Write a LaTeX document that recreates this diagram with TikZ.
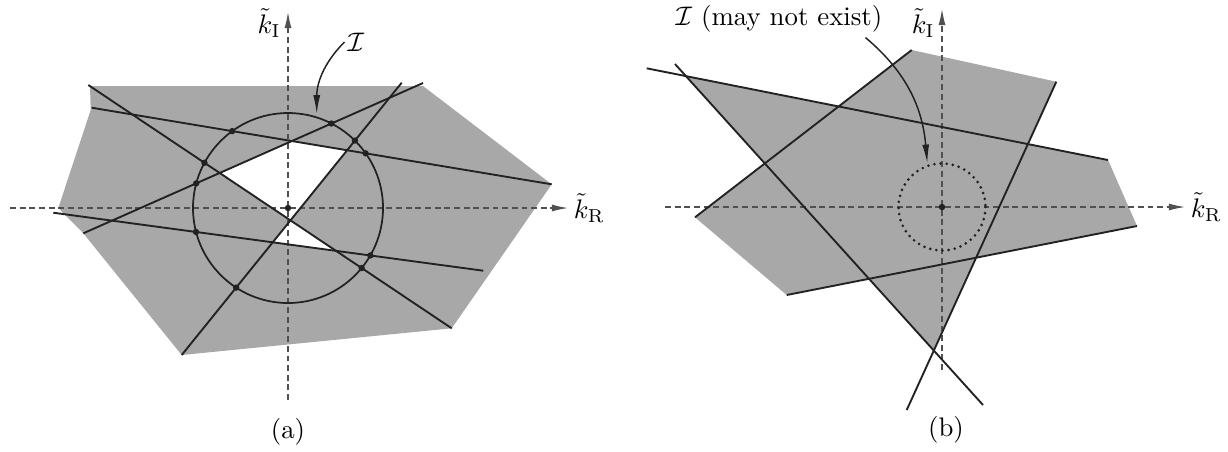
\documentclass[tikz,border=0pt]{standalone}
\usepackage{xcolor}
\definecolor{cShade}{HTML}{A8A8A8}
\definecolor{cLine}{HTML}{222222}
\definecolor{cAxis}{HTML}{505050}
\usepackage{tikz}
\usetikzlibrary{positioning,arrows.meta,calc,intersections}
\tikzset{
  region/.style={fill=cShade,draw=none},
  hole/.style={fill=white,draw=none},
  bound-line/.style={draw=cLine,line width=0.7pt},
  axis-line/.style={draw=cAxis,line width=0.45pt,dash pattern=on 2.2pt off 1.4pt,
    -{Latex[length=6pt,width=2.6pt]}},
  circ-line/.style={draw=cLine,line width=0.65pt},
  circ-dotted/.style={draw=cLine,line width=1.1pt,dash pattern=on 0pt off 2.3pt,line cap=round},
  arrow-label/.style={draw=cLine,line width=0.55pt,-{Latex[length=7pt,width=2.6pt]}},
  dot/.style={fill=cLine},
  lbl/.style={inner sep=1pt},
}

\begin{document}
\begin{tikzpicture}[x=0.373pt,y=-0.373pt]
  \useasboundingbox (0,0) rectangle (1228,451);
  % (a)
  \coordinate (Oa) at (288,208);
  \coordinate (A1) at (91.7,107.7);  \coordinate (A2) at (551.7,184.3);
  \coordinate (B1) at (181.7,355);   \coordinate (B2) at (401.7,82.7);
  \coordinate (C1) at (88.3,85);     \coordinate (C2) at (451.7,328.3);
  \coordinate (D1) at (83.3,233.3);  \coordinate (D2) at (423,83);
  \coordinate (E1) at (53.3,212.7);  \coordinate (E2) at (483.3,270.7);
  \fill[region] (90,86) -- (423,86) -- (A2) -- (C2) -- (B1) -- (D1) -- (58.3,208) -- (90.7,110) -- cycle;
  \fill[hole] (intersection of D1--D2 and A1--A2) -- (intersection of A1--A2 and B1--B2)
    -- (intersection of B1--B2 and C1--C2) -- (intersection of C1--C2 and D1--D2) -- cycle;
  \fill[hole] (intersection of B1--B2 and C1--C2) -- (intersection of C1--C2 and E1--E2)
    -- (intersection of E1--E2 and B1--B2) -- cycle;
  \coordinate (xa0) at (10,208);  \coordinate (xa1) at (568,208);
  \coordinate (ya0) at (288,400); \coordinate (ya1) at (288,12);
  \draw[axis-line] (xa0) -- (xa1);
  \draw[axis-line] (ya0) -- (ya1);
  \draw[circ-line,name path=circa] (Oa) circle (95);
  \draw[bound-line,name path=la] (A1) -- (A2);
  \draw[bound-line,name path=lb] (B1) -- (B2);
  \draw[bound-line,name path=lc] (C1) -- (C2);
  \draw[bound-line,name path=ld] (D1) -- (D2);
  \draw[bound-line,name path=le] (E1) -- (E2);
  \foreach \l in {la,lb,lc,ld,le}
    \fill[dot,name intersections={of=circa and \l}] (intersection-1) circle (3.2) (intersection-2) circle (3.2);
  \fill[dot] (Oa) circle (3.2);
  \node[lbl,right=1pt of xa1] (kRa) {$\tilde{k}_{\mathrm{R}}$};
  \node[lbl,anchor=east] (kIa) at (284,23) {$\tilde{k}_{\mathrm{I}}$};
  \node[lbl] (lblIa) at (356,42) {$\mathcal{I}$};
  \coordinate (tipIa) at (316.7,114);
  \draw[arrow-label] (lblIa.west) to[out=225,in=90] (tipIa);
  \node[lbl] (capa) at (288,432) {(a)};

  % (b)
  \coordinate (Ob) at (942,207);
  \coordinate (F1) at (906.7,410);   \coordinate (F2) at (1056.3,81.7);
  \coordinate (G1) at (646.7,68.3);  \coordinate (G2) at (1108,160);
  \coordinate (H1) at (786.7,295);   \coordinate (H2) at (1137,226);
  \coordinate (J1) at (675,64);      \coordinate (J2) at (983,405);
  \coordinate (K1) at (695,217.3);   \coordinate (K2) at (911.7,50);
  \fill[region] (K2) -- (F2) -- (intersection of F1--F2 and G1--G2) -- (G2) -- (H2)
    -- (intersection of H1--H2 and F1--F2) -- (intersection of F1--F2 and J1--J2)
    -- (intersection of J1--J2 and H1--H2) -- (H1) -- (K1)
    -- (intersection of K1--K2 and J1--J2) -- (intersection of J1--J2 and G1--G2)
    -- (intersection of G1--G2 and K1--K2) -- cycle;
  \coordinate (xb0) at (665,207);  \coordinate (xb1) at (1185,207);
  \coordinate (yb0) at (942,370);  \coordinate (yb1) at (942,9);
  \draw[axis-line] (xb0) -- (xb1);
  \draw[axis-line] (yb0) -- (yb1);
  \draw[circ-dotted] (Ob) circle (43.5);
  \foreach \s/\e in {F1/F2,G1/G2,H1/H2,J1/J2,K1/K2}
    \draw[bound-line] (\s) -- (\e);
  \fill[dot] (Ob) circle (3.2);
  \node[lbl,right=1pt of xb1] (kRb) {$\tilde{k}_{\mathrm{R}}$};
  \node[lbl,anchor=east] (kIb) at (938,23) {$\tilde{k}_{\mathrm{I}}$};
  \node[lbl] (lblIb) at (779,19) {$\mathcal{I}$ (may not exist)};
  \coordinate (tipIb) at (927.3,163.3);
  \draw[arrow-label] ($(lblIb.south east)+(-20,2)$) to[out=-40,in=95] (tipIb);
  \node[lbl] (capb) at (946,430) {(b)};
\end{tikzpicture}
\end{document}
